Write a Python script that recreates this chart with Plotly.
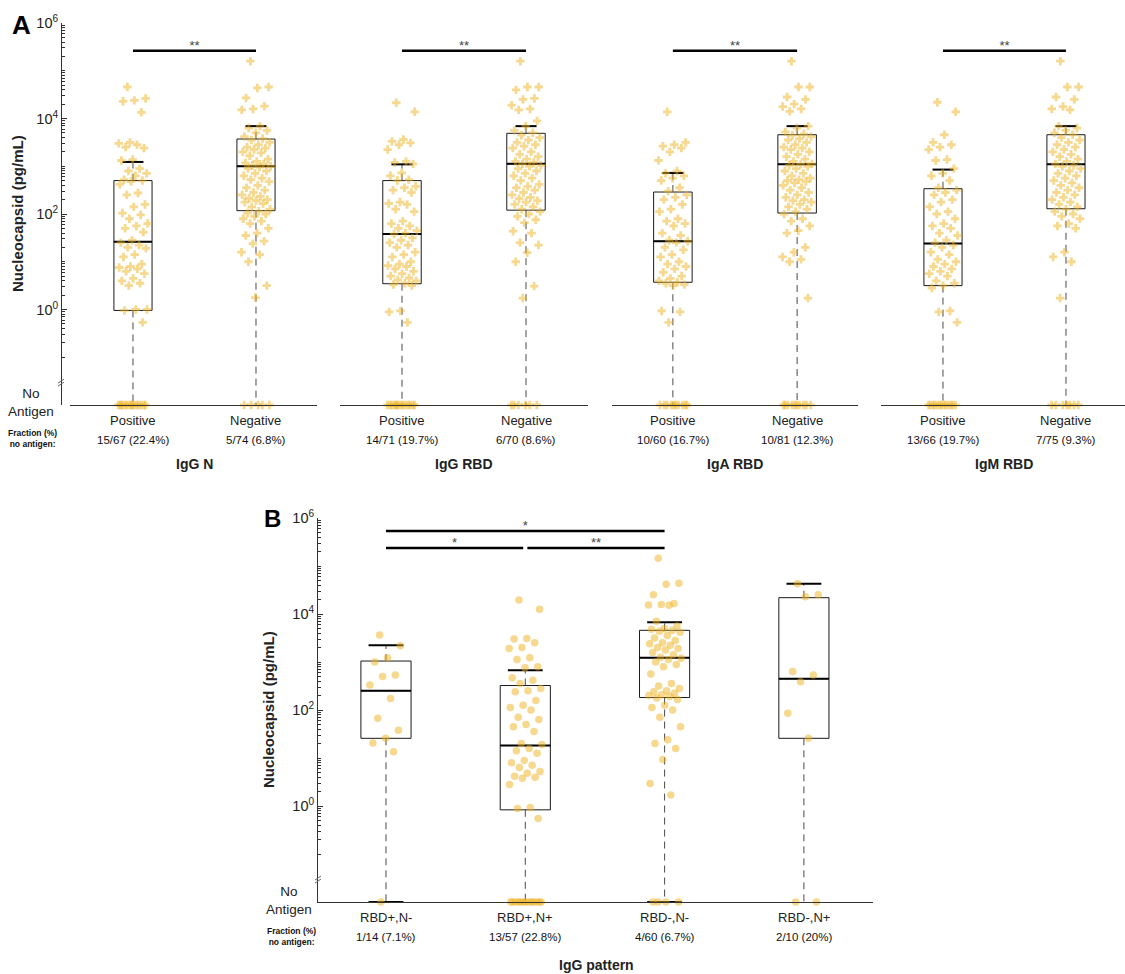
import plotly.graph_objects as go

W, H = 1125, 974
FONT = "Liberation Sans, Arial, sans-serif"
PT_COLOR = "rgba(237,177,32,0.5)"

# ---------------- DATA (values are log10 of Nucleocapsid, pg/mL) ----------------
panel_a_titles = ["IgG N", "IgG RBD", "IgA RBD", "IgM RBD"]
panel_a_cats = ["Positive", "Negative"]

igg_n_pos = [4.66, 4.42, 4.38, 4.36, 4.13, 3.50, 3.48, 3.45, 3.40, 3.38, 3.14, 3.12, 2.95, 2.90,
             2.85, 2.80, 2.72, 2.70, 2.68, 2.62, 2.44, 2.40, 2.20, 2.15, 2.02, 1.98, 1.90, 1.80,
             1.75, 1.70, 1.62, 1.45, 1.40, 1.35, 1.30, 1.28, 1.15, 1.10, 0.95, 0.90, 0.88, 0.85,
             0.80, 0.75, 0.65, 0.60, 0.55, 0.50, 0.00, 0.00, -0.02, -0.27]
igg_n_neg = [5.20, 4.66, 4.64, 4.43, 4.26, 4.20, 4.18, 3.84, 3.80, 3.75, 3.70, 3.62, 3.58, 3.55,
             3.50, 3.45, 3.40, 3.38, 3.35, 3.30, 3.28, 3.22, 3.15, 3.10, 3.07, 3.05, 3.02, 3.00,
             2.98, 2.95, 2.90, 2.85, 2.80, 2.75, 2.72, 2.68, 2.60, 2.55, 2.50, 2.45, 2.40, 2.37,
             2.33, 2.30, 2.28, 2.25, 2.22, 2.15, 2.10, 2.06, 2.02, 2.00, 1.95, 1.90, 1.85, 1.80,
             1.70, 1.60, 1.55, 1.43, 1.38, 1.20, 1.15, 1.00, 0.50, 0.25]
igg_rbd_pos = [4.33, 4.14, 3.56, 3.52, 3.49, 3.45, 3.35, 3.10, 3.08, 3.05, 2.86, 2.80, 2.72, 2.70,
               2.58, 2.55, 2.50, 2.45, 2.25, 2.22, 2.20, 2.10, 2.05, 1.85, 1.80, 1.75, 1.70, 1.65,
               1.60, 1.58, 1.50, 1.45, 1.40, 1.35, 1.30, 1.20, 1.15, 1.10, 1.00, 0.95, 0.92, 0.90,
               0.85, 0.80, 0.75, 0.70, 0.66, 0.62, 0.60, 0.55, 0.52, 0.50, -0.03, -0.05, -0.27]
igg_rbd_neg = [5.20, 4.66, 4.66, 4.60, 4.42, 4.40, 4.28, 4.20, 4.18, 3.95, 3.84, 3.75, 3.70, 3.65,
               3.60, 3.55, 3.50, 3.45, 3.42, 3.38, 3.30, 3.25, 3.20, 3.15, 3.10, 3.08, 3.05, 3.02,
               3.00, 2.95, 2.90, 2.85, 2.80, 2.75, 2.70, 2.62, 2.58, 2.55, 2.50, 2.45, 2.40, 2.35,
               2.32, 2.28, 2.25, 2.20, 2.15, 2.10, 2.05, 2.00, 1.95, 1.88, 1.82, 1.64, 1.60, 1.40,
               1.35, 1.19, 1.00, 0.49, 0.24]
iga_rbd_pos = [4.14, 3.50, 3.45, 3.42, 3.38, 3.30, 3.12, 2.90, 2.85, 2.80, 2.75, 2.70, 2.55, 2.48,
               2.40, 2.35, 2.30, 2.20, 2.10, 2.05, 1.90, 1.85, 1.80, 1.75, 1.60, 1.55, 1.45, 1.43,
               1.40, 1.30, 1.25, 1.15, 1.10, 1.00, 0.95, 0.90, 0.85, 0.78, 0.70, 0.65, 0.60, 0.57,
               0.55, 0.52, 0.50, -0.03, -0.05, -0.27]
iga_rbd_neg = [5.20, 4.66, 4.66, 4.45, 4.40, 4.30, 4.25, 4.20, 4.15, 3.84, 3.80, 3.72, 3.68, 3.65,
               3.62, 3.58, 3.55, 3.50, 3.45, 3.40, 3.38, 3.35, 3.30, 3.25, 3.20, 3.15, 3.10, 3.05,
               3.04, 3.02, 3.00, 2.95, 2.90, 2.85, 2.80, 2.75, 2.72, 2.70, 2.68, 2.65, 2.60, 2.55,
               2.50, 2.45, 2.40, 2.35, 2.30, 2.28, 2.25, 2.20, 2.15, 2.10, 2.05, 2.00, 1.90, 1.85,
               1.75, 1.65, 1.60, 1.30, 1.20, 1.10, 1.05, 1.00, 0.24]
igm_rbd_pos = [4.34, 4.14, 3.66, 3.50, 3.45, 3.40, 3.35, 3.14, 3.12, 2.95, 2.85, 2.80, 2.70, 2.55,
               2.50, 2.45, 2.40, 2.30, 2.25, 2.15, 2.05, 2.00, 1.90, 1.80, 1.75, 1.70, 1.60, 1.55,
               1.45, 1.40, 1.35, 1.30, 1.20, 1.15, 1.05, 1.00, 0.95, 0.90, 0.85, 0.80, 0.75, 0.70,
               0.60, 0.55, 0.50, 0.45, -0.03, -0.05, -0.27]
igm_rbd_neg = [5.20, 4.66, 4.66, 4.45, 4.40, 4.25, 4.20, 4.18, 3.84, 3.80, 3.75, 3.70, 3.66, 3.60,
               3.55, 3.50, 3.45, 3.40, 3.35, 3.30, 3.25, 3.20, 3.15, 3.10, 3.05, 3.02, 3.00, 2.95,
               2.90, 2.85, 2.80, 2.75, 2.70, 2.65, 2.60, 2.55, 2.50, 2.45, 2.40, 2.35, 2.30, 2.25,
               2.20, 2.15, 2.10, 2.05, 2.00, 1.95, 1.90, 1.80, 1.75, 1.70, 1.20, 1.10, 1.00, 0.24]

panel_a_values = [[igg_n_pos, igg_n_neg], [igg_rbd_pos, igg_rbd_neg],
                  [iga_rbd_pos, iga_rbd_neg], [igm_rbd_pos, igm_rbd_neg]]
panel_a_zero_counts = [[15, 5], [14, 6], [10, 10], [13, 7]]
panel_a_fraction = [["15/67 (22.4%)", "5/74 (6.8%)"], ["14/71 (19.7%)", "6/70 (8.6%)"],
                    ["10/60 (16.7%)", "10/81 (12.3%)"], ["13/66 (19.7%)", "7/75 (9.3%)"]]
# box statistics (log10): q1, median, q3, upper whisker
panel_a_q1 = [[-0.02, 2.07], [0.54, 2.08], [0.57, 2.02], [0.50, 2.11]]
panel_a_med = [[1.42, 3.00], [1.58, 3.05], [1.43, 3.04], [1.38, 3.04]]
panel_a_q3 = [[2.70, 3.57], [2.70, 3.69], [2.46, 3.66], [2.53, 3.66]]
panel_a_whi = [[3.09, 3.84], [3.04, 3.84], [2.86, 3.84], [2.93, 3.84]]
panel_a_sig = ["**", "**", "**", "**"]

panel_b_cats = ["RBD+,N-", "RBD+,N+", "RBD-,N-", "RBD-,N+"]
rbdp_nm = [3.56, 3.34, 3.09, 3.00, 2.73, 2.70, 2.52, 2.24, 1.83, 1.58, 1.41, 1.31, 1.13]
rbdp_np = [4.29, 4.10, 3.49, 3.48, 3.40, 3.30, 3.28, 3.09, 3.05, 2.90, 2.88, 2.67, 2.62, 2.55,
           2.45, 2.40, 2.38, 2.20, 2.10, 2.05, 2.00, 1.85, 1.80, 1.70, 1.65, 1.55, 1.30, 1.28,
           1.20, 1.15, 1.10, 0.95, 0.90, 0.85, 0.80, 0.72, 0.68, 0.62, 0.60, 0.58, 0.45, -0.03,
           -0.05, -0.26]
rbdm_nm = [5.16, 4.64, 4.62, 4.40, 4.22, 4.20, 4.19, 4.18, 3.85, 3.75, 3.70, 3.68, 3.66, 3.64,
           3.62, 3.55, 3.50, 3.45, 3.40, 3.38, 3.35, 3.30, 3.28, 3.25, 3.20, 3.15, 3.10, 3.08,
           3.05, 3.00, 2.95, 2.90, 2.75, 2.55, 2.50, 2.45, 2.40, 2.38, 2.35, 2.32, 2.30, 2.28,
           2.25, 2.22, 2.10, 2.05, 2.00, 1.85, 1.65, 1.38, 1.30, 1.20, 0.97, 0.47, 0.23]
rbdm_np = [4.63, 4.40, 4.36, 2.80, 2.73, 2.59, 1.93, 1.41]
panel_b_values = [rbdp_nm, rbdp_np, rbdm_nm, rbdm_np]
panel_b_zero_counts = [1, 13, 4, 2]
panel_b_fraction = ["1/14 (7.1%)", "13/57 (22.8%)", "4/60 (6.7%)", "2/10 (20%)"]
panel_b_q1 = [1.41, -0.08, 2.26, 1.41]
panel_b_med = [2.40, 1.26, 3.09, 2.65]
panel_b_q3 = [3.02, 2.51, 3.66, 4.34]
panel_b_whi = [3.35, 2.83, 3.83, 4.63]
panel_b_lowcap = [True, False, True, False]
# significance comparisons: (from, to, label, level log10)
panel_b_sig = [(0, 2, "*", 5.73), (0, 1, "*", 5.375), (1, 2, "**", 5.375)]

NO_ANTIGEN = 1e-2  # plotting position for samples with no antigen

# ---------------- helpers ----------------
def px_x(p):
    return p / W

def px_y(p):
    return 1 - p / H

def jitter(n, half, seed=0.31):
    g = 0.6180339887
    return [((i * g + seed) % 1.0 - 0.5) * 2 * half for i in range(n)]

fig = go.Figure()

def add_group(xa, ya, pos, vals, nzero, q1, med, q3, whi, bw, capw, half, symbol, msize, lowcap):
    fig.add_trace(go.Box(x=[pos], q1=[10 ** q1], median=[10 ** med], q3=[10 ** q3],
                         lowerfence=[10 ** q1], upperfence=[10 ** q3], width=bw,
                         whiskerwidth=0, line=dict(color="#1a1a1a", width=1),
                         fillcolor="rgba(0,0,0,0)", boxpoints=False, showlegend=False,
                         hoverinfo="skip", xaxis=xa, yaxis=ya))
    fig.add_trace(go.Scatter(x=[pos, pos, None, pos, pos],
                             y=[10 ** q3, 10 ** whi, None, 10 ** q1, NO_ANTIGEN],
                             mode="lines", line=dict(color="#4a4a4a", width=1, dash="7px,5px"),
                             showlegend=False, hoverinfo="skip", xaxis=xa, yaxis=ya))
    cx = [pos - bw / 2, pos + bw / 2, None, pos - capw / 2, pos + capw / 2]
    cy = [10 ** med, 10 ** med, None, 10 ** whi, 10 ** whi]
    if lowcap:
        cx += [None, pos - capw / 2, pos + capw / 2]
        cy += [None, NO_ANTIGEN, NO_ANTIGEN]
    fig.add_trace(go.Scatter(x=cx, y=cy, mode="lines", line=dict(color="black", width=2),
                             showlegend=False, hoverinfo="skip", xaxis=xa, yaxis=ya))
    ys = [10 ** v for v in vals] + [NO_ANTIGEN] * nzero
    xs = [pos + d for d in jitter(len(ys), half)]
    fig.add_trace(go.Scatter(x=xs, y=ys, mode="markers", cliponaxis=False,
                             marker=dict(symbol=symbol, size=msize, color=PT_COLOR, line=dict(width=0)),
                             showlegend=False, hoverinfo="skip", xaxis=xa, yaxis=ya))

def add_sig(xa, ya, x0, x1, label, lv):
    fig.add_trace(go.Scatter(x=[x0, x1], y=[10 ** lv, 10 ** lv], mode="lines",
                             line=dict(color="black", width=2.5), showlegend=False,
                             hoverinfo="skip", xaxis=xa, yaxis=ya))
    fig.add_trace(go.Scatter(x=[(x0 + x1) / 2], y=[10 ** (lv - 0.05)], mode="text", text=[label],
                             textposition="top center", cliponaxis=False,
                             textfont=dict(family=FONT, size=13, color="#444"),
                             showlegend=False, hoverinfo="skip", xaxis=xa, yaxis=ya))

minor_vals = [k * 10 ** e for e in range(-1, 6) for k in range(1, 10) if not (k == 1 and e % 2 == 0)]
major_vals = [1, 1e2, 1e4, 1e6]
major_text = ["10<sup>0</sup>", "10<sup>2</sup>", "10<sup>4</sup>", "10<sup>6</sup>"]

def yaxis_main(domain):
    return dict(type="log", range=[-2, 6], domain=domain, showgrid=False, zeroline=False,
                automargin=False,
                showline=True, linecolor="#333", linewidth=1, ticks="inside", ticklen=5,
                tickcolor="#333", tickvals=major_vals + [NO_ANTIGEN], ticktext=major_text + [""],
                tickfont=dict(family=FONT, size=14.5, color="#222"),
                minor=dict(tickmode="array", tickvals=minor_vals, ticks="inside", ticklen=3,
                           tickcolor="#333"))

def yaxis_hidden(domain):
    return dict(type="log", range=[-2, 6], domain=domain, showgrid=False, zeroline=False,
                automargin=False, showline=False, ticks="", showticklabels=False)

def xaxis(domain, rng, anchor):
    return dict(domain=domain, range=rng, anchor=anchor, showgrid=False, zeroline=False,
                automargin=False,
                showline=True, linecolor="#333", linewidth=1, ticks="", showticklabels=False)

# ---------------- Panel A ----------------
a_ydom = [px_y(405), px_y(23)]
a_xdoms = [[px_x(70), px_x(317)], [px_x(340), px_x(588)], [px_x(612), px_x(858)], [px_x(881), px_x(1125)]]
a_ranges = [[-0.512, 1.496], [-0.5, 1.5], [-0.49, 1.49], [-0.504, 1.48]]

layout = dict(width=W, height=H, margin=dict(l=0, r=0, t=0, b=0, autoexpand=False),
              plot_bgcolor="white", paper_bgcolor="white", showlegend=False)
annotations = []
shapes = []

for p in range(4):
    xn = "x" if p == 0 else f"x{p + 1}"
    yn = "y" if p == 0 else f"y{p + 1}"
    xkey = "xaxis" if p == 0 else f"xaxis{p + 1}"
    ykey = "yaxis" if p == 0 else f"yaxis{p + 1}"
    layout[xkey] = xaxis(a_xdoms[p], a_ranges[p], yn)
    if p == 0:
        layout[ykey] = yaxis_main(a_ydom)
        layout[ykey]["anchor"] = "free"
        layout[ykey]["position"] = px_x(61)
    else:
        layout[ykey] = yaxis_hidden(a_ydom)
        layout[ykey]["anchor"] = xn
    for c in range(2):
        add_group(xn, yn, c, panel_a_values[p][c], panel_a_zero_counts[p][c],
                  panel_a_q1[p][c], panel_a_med[p][c], panel_a_q3[p][c], panel_a_whi[p][c],
                  bw=0.31, capw=0.17, half=0.12, symbol="cross", msize=7, lowcap=False)
        annotations.append(dict(x=c, y=px_y(420), xref=xn, yref="paper", text=panel_a_cats[c],
                                showarrow=False, font=dict(family=FONT, size=13, color="#222"),
                                xanchor="center", yanchor="middle"))
        annotations.append(dict(x=c, y=px_y(440), xref=xn, yref="paper", text=panel_a_fraction[p][c],
                                showarrow=False, font=dict(family=FONT, size=11.5, color="#111"),
                                xanchor="center", yanchor="middle"))
    annotations.append(dict(x=0.5, y=px_y(464), xref=xn, yref="paper", text=f"<b>{panel_a_titles[p]}</b>",
                            showarrow=False, font=dict(family=FONT, size=14, color="#222"),
                            xanchor="center", yanchor="middle"))
    add_sig(xn, yn, 0, 1, panel_a_sig[p], 5.42)

# ---------------- Panel B ----------------
b_ydom = [px_y(902), px_y(518)]
layout["xaxis5"] = xaxis([px_x(318), px_x(873)], [-0.488, 3.496], "y5")
layout["yaxis5"] = yaxis_main(b_ydom)
layout["yaxis5"]["anchor"] = "x5"
for c in range(4):
    add_group("x5", "y5", c, panel_b_values[c], panel_b_zero_counts[c], panel_b_q1[c],
              panel_b_med[c], panel_b_q3[c], panel_b_whi[c], bw=0.36, capw=0.25, half=0.12,
              symbol="circle", msize=7.5, lowcap=panel_b_lowcap[c])
    annotations.append(dict(x=c, y=px_y(917), xref="x5", yref="paper", text=panel_b_cats[c],
                            showarrow=False, font=dict(family=FONT, size=13, color="#222"),
                            xanchor="center", yanchor="middle"))
    annotations.append(dict(x=c, y=px_y(937), xref="x5", yref="paper", text=panel_b_fraction[c],
                            showarrow=False, font=dict(family=FONT, size=11.5, color="#111"),
                            xanchor="center", yanchor="middle"))
for (a, b, lab, lv) in panel_b_sig:
    x0 = a + (0.015 if a == 1 else 0)
    x1 = b - (0.015 if b == 1 else 0)
    add_sig("x5", "y5", x0, x1, lab, lv)
annotations.append(dict(x=px_x(596), y=px_y(965), xref="paper", yref="paper", text="<b>IgG pattern</b>",
                        showarrow=False, font=dict(family=FONT, size=14, color="#222"),
                        xanchor="center", yanchor="middle"))

# ---------------- shared labels ----------------
for (lx, ly_mid, ly_na, na_x, fx, fy, tag_x, tag_y, tag) in [
        (18, 214, 403, 31, 32, 439, 10, 8, "A"),
        (268, 710, 900, 289, 291, 936, 262, 503, "B")]:
    annotations.append(dict(x=px_x(lx), y=px_y(ly_mid), xref="paper", yref="paper",
                            text="<b>Nucleocapsid (pg/mL)</b>", textangle=-90, showarrow=False,
                            font=dict(family=FONT, size=15, color="#222"),
                            xanchor="center", yanchor="middle"))
    annotations.append(dict(x=px_x(na_x), y=px_y(ly_na), xref="paper", yref="paper",
                            text="No<br>Antigen", showarrow=False, align="center",
                            font=dict(family=FONT, size=13.5, color="#222"),
                            xanchor="center", yanchor="middle"))
    annotations.append(dict(x=px_x(fx), y=px_y(fy), xref="paper", yref="paper",
                            text="<b>Fraction (%)<br>no antigen:</b>", showarrow=False, align="center",
                            font=dict(family=FONT, size=8.5, color="#111"),
                            xanchor="center", yanchor="middle"))
    annotations.append(dict(x=px_x(tag_x), y=px_y(tag_y), xref="paper", yref="paper",
                            text=f"<b>{tag}</b>", showarrow=False,
                            font=dict(family=FONT, size=26 if tag == "A" else 24, color="black"),
                            xanchor="left", yanchor="top"))

# axis-break marks on the y axes
for (ax_px, yref) in [(61, "y domain"), (318, "y5 domain")]:
    for off in (0, 3):
        shapes.append(dict(type="line", xref="paper", yref=yref,
                           x0=px_x(ax_px - 3), x1=px_x(ax_px + 3),
                           y0=0.0625 - (2 + off) / 382, y1=0.0625 + (2 - off) / 382,
                           line=dict(color="#666", width=1)))

layout["annotations"] = annotations
layout["shapes"] = shapes
fig.update_layout(**layout)
fig.write_html("out.html", config={"displayModeBar": False},
               post_script="document.body.style.margin='0px';document.body.style.overflow='hidden';")
